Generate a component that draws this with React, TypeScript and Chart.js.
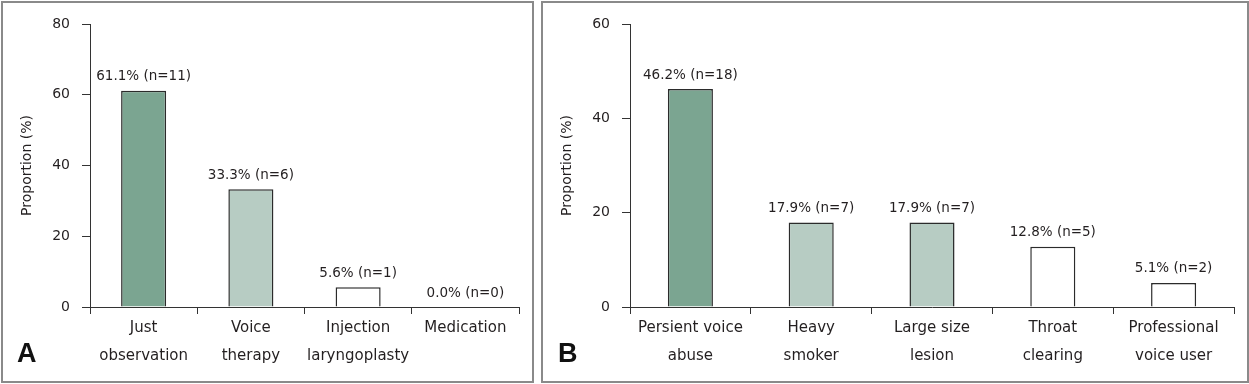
import React, { useEffect, useRef } from "react";
import { Chart, registerables } from "chart.js";

Chart.register(...registerables);

const catsA: string[][] = [["Just", "observation"], ["Voice", "therapy"], ["Injection", "laryngoplasty"], ["Medication"]];
const valuesA: number[] = [61.1, 33.3, 5.6, 0.0];
const countsA: number[] = [11, 6, 1, 0];
const colorsA: string[] = ["#7ba591", "#b7ccc3", "#ffffff", "#ffffff"];
const ticksA: number[] = [0, 20, 40, 60, 80];

const catsB: string[][] = [["Persient voice", "abuse"], ["Heavy", "smoker"], ["Large size", "lesion"], ["Throat", "clearing"], ["Professional", "voice user"]];
const valuesB: number[] = [46.2, 17.9, 17.9, 12.8, 5.1];
const countsB: number[] = [18, 7, 7, 5, 2];
const colorsB: string[] = ["#7ba591", "#b7ccc3", "#b7ccc3", "#ffffff", "#ffffff"];
const ticksB: number[] = [0, 20, 40, 60];

const FONT = "'DejaVu Sans', sans-serif";
const TEXT = "#231f20";

type PanelProps = {
  cats: string[][];
  values: number[];
  counts: number[];
  colors: string[];
  ticks: number[];
  width: number;
  height: number;
  barPct: number;
  rightPad: number;
};

function BarPanel(p: PanelProps) {
  const ref = useRef<HTMLCanvasElement | null>(null);
  useEffect(() => {
    if (!ref.current) return;
    const max = p.ticks[p.ticks.length - 1];
    const labelPlugin = {
      id: "valueLabels",
      afterDatasetsDraw(chart: any) {
        const ctx = chart.ctx;
        const meta = chart.getDatasetMeta(0);
        ctx.save();
        ctx.font = "13.5px " + FONT;
        ctx.fillStyle = TEXT;
        ctx.textAlign = "center";
        ctx.textBaseline = "middle";
        meta.data.forEach((bar: any, i: number) => {
          const txt = p.values[i].toFixed(1) + "% (n=" + p.counts[i] + ")";
          ctx.fillText(txt, bar.x, bar.y - 14);
        });
        ctx.restore();
      },
    };
    const chart = new Chart(ref.current, {
      type: "bar",
      data: {
        labels: p.cats,
        datasets: [
          {
            data: p.values,
            backgroundColor: p.colors,
            borderColor: "#2b2b2b",
            borderWidth: 1.5,
            barPercentage: p.barPct,
            categoryPercentage: 1,
          },
        ],
      },
      options: {
        responsive: false,
        maintainAspectRatio: false,
        animation: false,
        devicePixelRatio: 1,
        layout: { padding: { left: 0, top: 21, right: p.rightPad, bottom: 0 } },
        plugins: { legend: { display: false }, tooltip: { enabled: false } },
        scales: {
          x: {
            grid: { drawOnChartArea: false, drawTicks: true, tickLength: 7, color: "#333333", offset: true },
            border: { display: true, color: "#333333", width: 1 },
            ticks: { color: TEXT, font: { family: FONT, size: 15, lineHeight: 1.87 }, padding: 0, maxRotation: 0, autoSkip: false },
            afterFit: (s: any) => {
              s.height = p.height - 304;
            },
          },
          y: {
            min: 0,
            max: max,
            afterBuildTicks: (s: any) => {
              s.ticks = p.ticks.map((v) => ({ value: v }));
            },
            grid: { drawOnChartArea: false, drawTicks: true, tickLength: 8, color: "#333333" },
            border: { display: true, color: "#333333", width: 1 },
            ticks: { color: TEXT, font: { family: FONT, size: 14 }, padding: 12 },
            title: { display: true, text: "Proportion (%)", color: TEXT, font: { family: FONT, size: 14 }, padding: { top: 16, bottom: 0 } },
            afterFit: (s: any) => {
              s.width = 87;
            },
          },
        },
      },
      plugins: [labelPlugin],
    });
    return () => chart.destroy();
  }, []);
  return <canvas ref={ref} width={p.width} height={p.height} style={{ display: "block", width: p.width, height: p.height }} />;
}

const panelStyle = (left: number, width: number): React.CSSProperties => ({
  position: "absolute",
  left,
  top: 1,
  width,
  height: 382,
  boxSizing: "border-box",
  border: "2px solid #8a8a8a",
  background: "#fff",
});

const letterStyle = (left: number): React.CSSProperties => ({
  position: "absolute",
  left,
  top: 333,
  fontFamily: "'Liberation Sans', Arial, sans-serif",
  fontWeight: "bold",
  fontSize: 27,
  lineHeight: "40px",
  color: "#111",
});

export default function App() {
  useEffect(() => {
    document.body.style.margin = "0";
  }, []);
  return (
    <div style={{ position: "relative", width: 1249, height: 384, background: "#fff", overflow: "hidden" }}>
      <div style={panelStyle(1, 533)}>
        <BarPanel cats={catsA} values={valuesA} counts={countsA} colors={colorsA} ticks={ticksA} width={529} height={378} barPct={0.42} rightPad={13} />
      </div>
      <div style={panelStyle(541, 708)}>
        <BarPanel cats={catsB} values={valuesB} counts={countsB} colors={colorsB} ticks={ticksB} width={704} height={378} barPct={0.373} rightPad={13} />
      </div>
      <div style={letterStyle(17)}>A</div>
      <div style={letterStyle(558)}>B</div>
    </div>
  );
}
